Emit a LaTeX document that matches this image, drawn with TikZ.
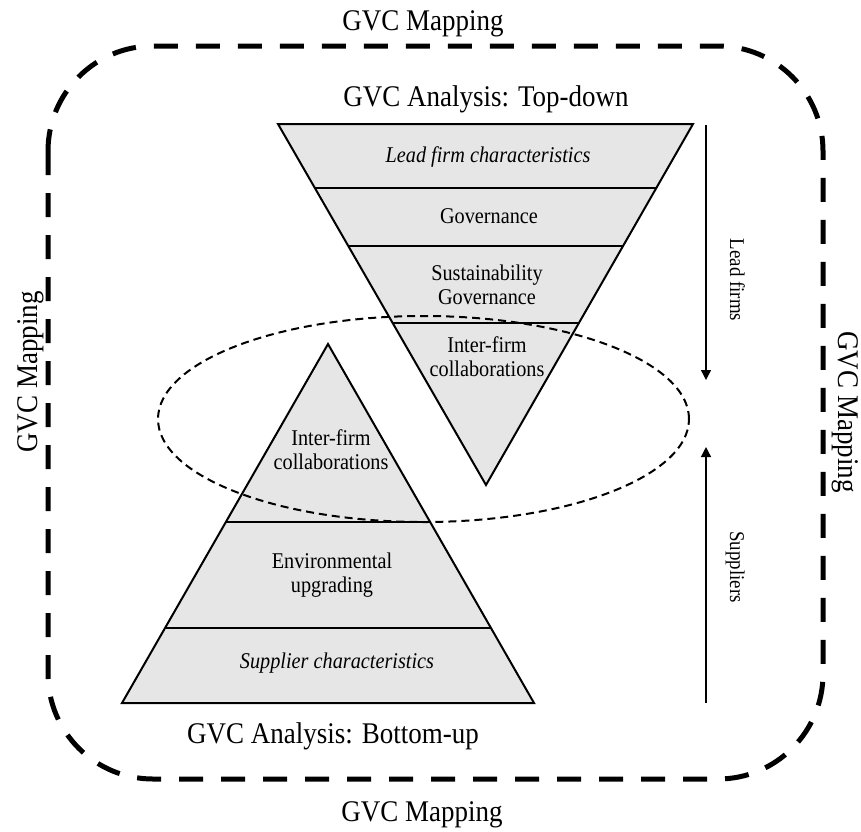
\documentclass[tikz,border=0pt]{standalone}
\usepackage{fontspec}
\setmainfont{Liberation Serif}[FakeStretch=0.9]
\usetikzlibrary{arrows.meta}
\definecolor{layerfill}{RGB}{230,230,230}
\begin{document}
\begin{tikzpicture}[x=1pt,y=-1pt,
  layertext/.style={font=\fontsize{22.5}{25}\selectfont, anchor=base, inner sep=0pt},
  layeritalic/.style={font=\fontsize{22.5}{25}\selectfont\itshape, anchor=base, inner sep=0pt},
  titletext/.style={font=\fontsize{30}{34}\selectfont, anchor=base, inner sep=0pt},
  sidetext/.style={font=\fontsize{21}{24}\selectfont, anchor=base, inner sep=0pt},
  pyramid/.style={fill=layerfill, draw=black, line width=2pt, line join=miter},
  divider/.style={line width=1.2pt},
  mapframe/.style={line width=5pt, dash pattern=on 24pt off 18pt, rounded corners=105pt},
  overlap/.style={line width=2pt, dash pattern=on 8pt off 5pt},
  flow/.style={line width=1.3pt, -{Triangle[length=10pt,width=10pt]}}
]
\useasboundingbox (0,0) rectangle (861,831);

% outer mapping frame
\draw[mapframe] (48,46) rectangle (823,779);
\node[titletext] (mapTop) at (423,30) {GVC Mapping};
\node[titletext] (mapBottom) at (422,821) {GVC Mapping};
\node[titletext, rotate=90] (mapLeft) at (37,372) {GVC Mapping};
\node[titletext, rotate=-90] (mapRight) at (838,412) {GVC Mapping};

% top-down funnel
\coordinate (tdL) at (278,124);
\coordinate (tdR) at (693,124);
\coordinate (tdApex) at (486,485);
\draw[pyramid] (tdL) -- (tdR) -- (tdApex) -- cycle;
\begin{scope}
  \clip (tdL) -- (tdR) -- (tdApex) -- cycle;
  \draw[divider] (250,188) -- (720,188);
  \draw[divider] (250,246) -- (720,246);
  \draw[divider] (250,323) -- (720,323);
\end{scope}
\node[titletext] (tdTitle) at (486,106) {GVC Analysis: Top-down};
\node[layeritalic] (tdLead) at (488,162) {Lead firm characteristics};
\node[layertext] (tdGov) at (489,223) {Governance};
\node[layertext] (tdSus1) at (487,280) {Sustainability};
\node[layertext] (tdSus2) at (487,304) {Governance};
\node[layertext] (tdInter1) at (487,352) {Inter-firm};
\node[layertext] (tdInter2) at (487,376) {collaborations};

% bottom-up pyramid
\coordinate (buApex) at (328,344);
\coordinate (buL) at (122,703);
\coordinate (buR) at (534,703);
\draw[pyramid] (buApex) -- (buR) -- (buL) -- cycle;
\begin{scope}
  \clip (buApex) -- (buR) -- (buL) -- cycle;
  \draw[divider] (100,522) -- (560,522);
  \draw[divider] (100,628) -- (560,628);
\end{scope}
\node[titletext] (buTitle) at (333,743) {GVC Analysis: Bottom-up};
\node[layertext] (buInter1) at (331,445) {Inter-firm};
\node[layertext] (buInter2) at (331,469) {collaborations};
\node[layertext] (buEnv1) at (332,568) {Environmental};
\node[layertext] (buEnv2) at (332,592) {upgrading};
\node[layeritalic] (buSup) at (337,668) {Supplier characteristics};

% overlap zone
\draw[overlap] (423.5,419) ellipse [x radius=265.5pt, y radius=103pt];

% direction arrows
\coordinate (lfStart) at (706,125);
\coordinate (lfEnd) at (706,380);
\coordinate (spStart) at (706,703);
\coordinate (spEnd) at (706,447);
\draw[flow] (lfStart) -- (lfEnd);
\draw[flow] (spStart) -- (spEnd);
\node[sidetext, rotate=-90] (leadLbl) at (730,280) {Lead firms};
\node[sidetext, rotate=-90] (supLbl) at (730,567) {Suppliers};
\end{tikzpicture}
\end{document}
